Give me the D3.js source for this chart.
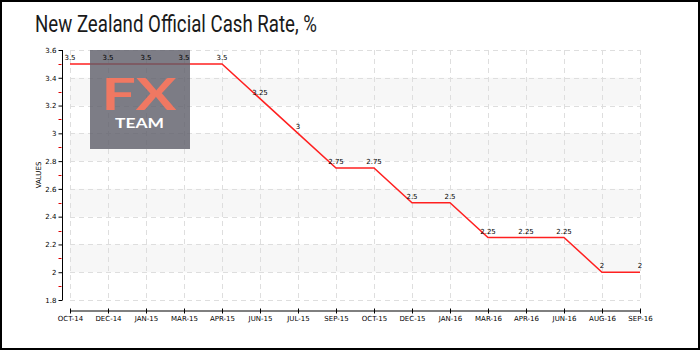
<!DOCTYPE html>
<html>
<head>
<meta charset="utf-8">
<script src="https://cdn.jsdelivr.net/npm/d3@7"></script>
<style>
  html, body { margin: 0; padding: 0; background: #fff; }
  svg { display: block; }
  .tick-label { font-family: "DejaVu Sans", sans-serif; font-size: 7px; fill: #000; }
</style>
</head>
<body>
<svg id="chart" width="700" height="350"></svg>
<script>
// Monthly review dates and the Official Cash Rate set at each
const months = ["OCT-14","DEC-14","JAN-15","MAR-15","APR-15","JUN-15","JUL-15","SEP-15",
                "OCT-15","DEC-15","JAN-16","MAR-16","APR-16","JUN-16","AUG-16","SEP-16"];
const rates = [3.5, 3.5, 3.5, 3.5, 3.5, 3.25, 3, 2.75, 2.75, 2.5, 2.5, 2.25, 2.25, 2.25, 2, 2];
const yTicks = [1.8, 2, 2.2, 2.4, 2.6, 2.8, 3, 3.2, 3.4, 3.6];
const yTickLabels = ["1.8", "2", "2.2", "2.4", "2.6", "2.8", "3", "3.2", "3.4", "3.6"];
const yMinorTicks = [1.9, 2.1, 2.3, 2.5, 2.7, 2.9, 3.1, 3.3, 3.5];

const svg = d3.select("#chart");
const W = 700, H = 350;
const plot = { left: 70, right: 640, top: 50, bottom: 300 };

const x = d3.scalePoint().domain(months).range([plot.left, plot.right]);
const y = d3.scaleLinear().domain([1.8, 3.6]).range([plot.bottom, plot.top]);

// outer frame
svg.append("rect")
  .attr("x", 1).attr("y", 1).attr("width", W - 2).attr("height", H - 2)
  .attr("fill", "#fff").attr("stroke", "#000").attr("stroke-width", 2);

// title
svg.append("text")
  .attr("x", 35).attr("y", 32)
  .attr("font-family", "Roboto, 'DejaVu Sans', sans-serif")
  .attr("font-weight", 400)
  .attr("font-size", 23)
  .attr("fill", "#1a1a1a")
  .attr("textLength", 282)
  .attr("lengthAdjust", "spacingAndGlyphs")
  .text("New Zealand Official Cash Rate, %");

// alternating horizontal bands
const bands = [[3.2, 3.4], [2.8, 3.0], [2.4, 2.6], [2.0, 2.2]];
svg.append("g").selectAll("rect").data(bands).join("rect")
  .attr("x", plot.left)
  .attr("width", plot.right - plot.left)
  .attr("y", d => y(d[1]))
  .attr("height", d => y(d[0]) - y(d[1]))
  .attr("fill", "#f7f7f7");

// dashed grid
const grid = svg.append("g")
  .attr("stroke", "#dedede").attr("stroke-width", 1).attr("stroke-dasharray", "5,4");
grid.selectAll("line.h").data(yTicks).join("line")
  .attr("class", "h")
  .attr("x1", plot.left).attr("x2", plot.right)
  .attr("y1", d => Math.round(y(d)) + 0.5).attr("y2", d => Math.round(y(d)) + 0.5);
grid.selectAll("line.v").data(months).join("line")
  .attr("class", "v")
  .attr("x1", d => Math.round(x(d)) + 0.5).attr("x2", d => Math.round(x(d)) + 0.5)
  .attr("y1", plot.top).attr("y2", plot.bottom);

// y axis
const yAxis = d3.axisLeft(y)
  .tickValues(yTicks)
  .tickFormat((d, i) => yTickLabels[i])
  .tickSize(4)
  .tickPadding(2);
const gy = svg.append("g").attr("transform", "translate(62.5,0)").call(yAxis);
gy.select(".domain").attr("stroke", "#000").attr("d", `M0,${y(3.6)}V${y(1.8)}`);
gy.selectAll(".tick line").attr("stroke", "#000");
gy.selectAll(".tick text").attr("class", "tick-label").attr("font-size", null).attr("font-family", null);
// minor red ticks
gy.append("g").selectAll("line").data(yMinorTicks).join("line")
  .attr("x1", -4).attr("x2", -1)
  .attr("y1", d => Math.round(y(d)) + 0.5).attr("y2", d => Math.round(y(d)) + 0.5)
  .attr("stroke", "#e00000");

// y axis title
svg.append("text")
  .attr("class", "tick-label")
  .attr("transform", `translate(41,${(plot.top + plot.bottom) / 2}) rotate(-90)`)
  .attr("text-anchor", "middle")
  .text("VALUES");

// x axis, placed a little below the plot area
const xAxis = d3.axisBottom(x).tickSizeInner(5).tickSizeOuter(0).tickPadding(3);
const gx = svg.append("g").attr("transform", "translate(0,310.5)").call(xAxis);
gx.select(".domain").attr("stroke", "#000");
gx.selectAll(".tick line").attr("stroke", "#000").attr("y1", -2).attr("y2", 3);
gx.selectAll(".tick text").attr("class", "tick-label").attr("font-size", null).attr("font-family", null)
  .attr("y", 6);

// rate line
const line = d3.line().x((d, i) => x(months[i])).y(d => y(d));
svg.append("path")
  .datum(rates)
  .attr("d", line)
  .attr("fill", "none")
  .attr("stroke", "#ff2020")
  .attr("stroke-width", 1.5);

// logo overlay
const logo = svg.append("g");
logo.append("rect")
  .attr("x", 90).attr("y", 50).attr("width", 100).attr("height", 99)
  .attr("fill", "rgb(92,92,104)").attr("opacity", 0.8);
logo.append("text")
  .attr("x", 139).attr("y", 110)
  .attr("text-anchor", "middle")
  .attr("font-family", "Lato, 'Open Sans', sans-serif")
  .attr("font-weight", 700)
  .attr("font-size", 44)
  .attr("fill", "#f07862")
  .attr("textLength", 75)
  .attr("lengthAdjust", "spacingAndGlyphs")
  .text("FX");
logo.append("text")
  .attr("x", 139.5).attr("y", 127.5)
  .attr("text-anchor", "middle")
  .attr("font-family", "Lato, 'Open Sans', sans-serif")
  .attr("font-weight", 700)
  .attr("font-size", 13.5)
  .attr("fill", "#fff")
  .attr("textLength", 49)
  .attr("lengthAdjust", "spacingAndGlyphs")
  .text("TEAM");

// value labels
svg.append("g").selectAll("text").data(rates).join("text")
  .attr("class", "tick-label")
  .attr("x", (d, i) => x(months[i]))
  .attr("y", d => y(d) - 4)
  .attr("text-anchor", "middle")
  .text(d => d);
</script>
</body>
</html>
